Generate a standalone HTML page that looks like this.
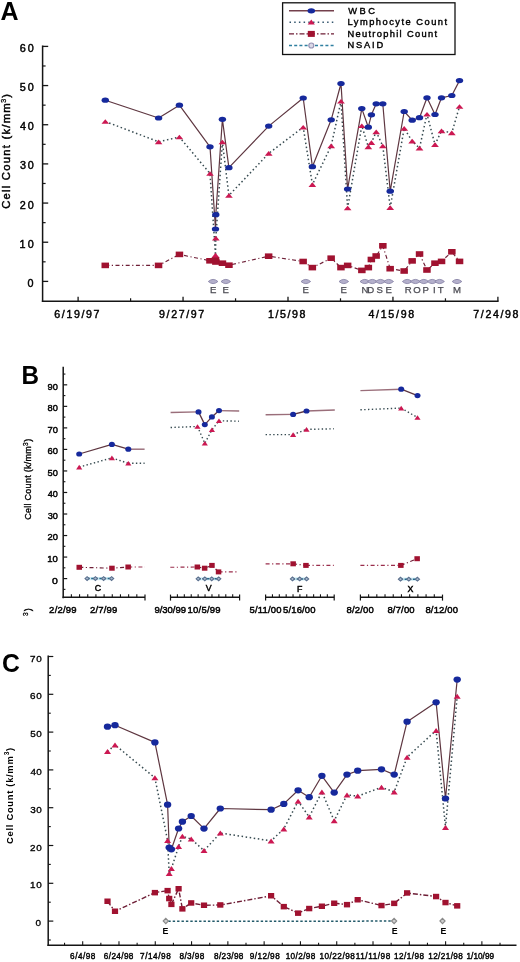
<!DOCTYPE html>
<html><head><meta charset="utf-8"><style>
html,body{margin:0;padding:0;background:#fff;overflow:hidden;}
svg{display:block;will-change:transform;}
</style></head><body>
<svg width="520" height="962" viewBox="0 0 520 962">
<rect width="520" height="962" fill="#fff"/>
<text x="0.49" y="19.80" font-family="Liberation Sans" font-size="25.7" font-weight="bold" fill="#000" textLength="18.08" lengthAdjust="spacingAndGlyphs">A</text>
<rect x="282.6" y="2.8" width="172.4" height="51.7" fill="#fff" stroke="#111" stroke-width="1.3"/>
<line x1="289.00" y1="10.80" x2="334.00" y2="10.80" stroke="#74404c" stroke-width="1.4"/>
<ellipse cx="311.3" cy="10.8" rx="3.8" ry="2.6" fill="#16299c"/>
<polyline points="289.5,22.2 334.0,22.2" fill="none" stroke="#34566e" stroke-width="1.6" stroke-dasharray="1.5 3.2" stroke-linejoin="round"/>
<path d="M307.7,24.4 L311.3,19.4 L314.9,24.4Z" fill="#cc1852"/>
<polyline points="289.0,33.9 334.0,33.9" fill="none" stroke="#6e1e36" stroke-width="1.4" stroke-dasharray="5 2 1.5 2" stroke-linejoin="round"/>
<rect x="307.8" y="30.9" width="7" height="6" fill="#a01230"/>
<polyline points="289.0,45.5 334.0,45.5" fill="none" stroke="#2f7fa0" stroke-width="1.3" stroke-dasharray="3 2.2" stroke-linejoin="round"/>
<circle cx="311.3" cy="45.5" r="2.5" fill="#dcdae8" stroke="#9894b4" stroke-width="1.2"/>
<text x="348.20" y="13.80" font-family="Liberation Sans" font-size="9.3" font-weight="normal" stroke="#000" stroke-width="0.4" fill="#000" textLength="26.70" lengthAdjust="spacing">WBC</text>
<text x="347.46" y="25.30" font-family="Liberation Sans" font-size="9.3" font-weight="normal" stroke="#000" stroke-width="0.4" fill="#000" textLength="99.62" lengthAdjust="spacing">Lymphocyte Count</text>
<text x="347.46" y="36.80" font-family="Liberation Sans" font-size="9.3" font-weight="normal" stroke="#000" stroke-width="0.4" fill="#000" textLength="89.52" lengthAdjust="spacing">Neutrophil Count</text>
<text x="347.46" y="48.00" font-family="Liberation Sans" font-size="9.3" font-weight="normal" stroke="#000" stroke-width="0.4" fill="#000" textLength="35.64" lengthAdjust="spacing">NSAID</text>
<line x1="42.60" y1="45.40" x2="42.60" y2="302.00" stroke="#151515" stroke-width="1.5"/>
<line x1="41.85" y1="301.20" x2="498.60" y2="301.20" stroke="#151515" stroke-width="1.6"/>
<line x1="42.60" y1="281.40" x2="48.20" y2="281.40" stroke="#151515" stroke-width="1.3"/>
<text x="27.38" y="286.90" font-family="Liberation Sans" font-size="10.8" font-weight="normal" stroke="#000" stroke-width="0.45" fill="#000" textLength="6.31" lengthAdjust="spacing">0</text>
<line x1="42.60" y1="242.23" x2="48.20" y2="242.23" stroke="#151515" stroke-width="1.3"/>
<text x="19.54" y="247.73" font-family="Liberation Sans" font-size="10.8" font-weight="normal" stroke="#000" stroke-width="0.45" fill="#000" textLength="14.15" lengthAdjust="spacing">10</text>
<line x1="42.60" y1="203.07" x2="48.20" y2="203.07" stroke="#151515" stroke-width="1.3"/>
<text x="19.76" y="208.57" font-family="Liberation Sans" font-size="10.8" font-weight="normal" stroke="#000" stroke-width="0.45" fill="#000" textLength="13.93" lengthAdjust="spacing">20</text>
<line x1="42.60" y1="163.90" x2="48.20" y2="163.90" stroke="#151515" stroke-width="1.3"/>
<text x="19.98" y="169.40" font-family="Liberation Sans" font-size="10.8" font-weight="normal" stroke="#000" stroke-width="0.45" fill="#000" textLength="13.71" lengthAdjust="spacing">30</text>
<line x1="42.60" y1="124.73" x2="48.20" y2="124.73" stroke="#151515" stroke-width="1.3"/>
<text x="20.08" y="130.23" font-family="Liberation Sans" font-size="10.8" font-weight="normal" stroke="#000" stroke-width="0.45" fill="#000" textLength="13.61" lengthAdjust="spacing">40</text>
<line x1="42.60" y1="85.56" x2="48.20" y2="85.56" stroke="#151515" stroke-width="1.3"/>
<text x="19.87" y="91.06" font-family="Liberation Sans" font-size="10.8" font-weight="normal" stroke="#000" stroke-width="0.45" fill="#000" textLength="13.82" lengthAdjust="spacing">50</text>
<line x1="42.60" y1="46.40" x2="48.20" y2="46.40" stroke="#151515" stroke-width="1.3"/>
<text x="19.76" y="51.90" font-family="Liberation Sans" font-size="10.8" font-weight="normal" stroke="#000" stroke-width="0.45" fill="#000" textLength="13.93" lengthAdjust="spacing">60</text>
<line x1="42.60" y1="261.82" x2="45.60" y2="261.82" stroke="#151515" stroke-width="1.2"/>
<line x1="42.60" y1="222.65" x2="45.60" y2="222.65" stroke="#151515" stroke-width="1.2"/>
<line x1="42.60" y1="183.48" x2="45.60" y2="183.48" stroke="#151515" stroke-width="1.2"/>
<line x1="42.60" y1="144.32" x2="45.60" y2="144.32" stroke="#151515" stroke-width="1.2"/>
<line x1="42.60" y1="105.15" x2="45.60" y2="105.15" stroke="#151515" stroke-width="1.2"/>
<line x1="42.60" y1="65.98" x2="45.60" y2="65.98" stroke="#151515" stroke-width="1.2"/>
<line x1="78.10" y1="301.20" x2="78.10" y2="296.80" stroke="#151515" stroke-width="1.3"/>
<text x="54.27" y="318.30" font-family="Liberation Sans" font-size="10.6" font-weight="normal" stroke="#000" stroke-width="0.45" fill="#000" textLength="45.22" lengthAdjust="spacing">6/19/97</text>
<line x1="183.05" y1="301.20" x2="183.05" y2="296.80" stroke="#151515" stroke-width="1.3"/>
<text x="159.08" y="318.30" font-family="Liberation Sans" font-size="10.6" font-weight="normal" stroke="#000" stroke-width="0.45" fill="#000" textLength="45.16" lengthAdjust="spacing">9/27/97</text>
<line x1="288.00" y1="301.20" x2="288.00" y2="296.80" stroke="#151515" stroke-width="1.3"/>
<text x="268.01" y="318.30" font-family="Liberation Sans" font-size="10.6" font-weight="normal" stroke="#000" stroke-width="0.45" fill="#000" textLength="37.38" lengthAdjust="spacing">1/5/98</text>
<line x1="392.95" y1="301.20" x2="392.95" y2="296.80" stroke="#151515" stroke-width="1.3"/>
<text x="368.39" y="318.30" font-family="Liberation Sans" font-size="10.6" font-weight="normal" stroke="#000" stroke-width="0.45" fill="#000" textLength="45.80" lengthAdjust="spacing">4/15/98</text>
<line x1="497.90" y1="301.20" x2="497.90" y2="296.80" stroke="#151515" stroke-width="1.3"/>
<text x="473.27" y="318.30" font-family="Liberation Sans" font-size="10.6" font-weight="normal" stroke="#000" stroke-width="0.45" fill="#000" textLength="45.21" lengthAdjust="spacing">7/24/98</text>
<line x1="130.60" y1="301.20" x2="130.60" y2="298.30" stroke="#151515" stroke-width="1.2"/>
<line x1="235.55" y1="301.20" x2="235.55" y2="298.30" stroke="#151515" stroke-width="1.2"/>
<line x1="340.50" y1="301.20" x2="340.50" y2="298.30" stroke="#151515" stroke-width="1.2"/>
<line x1="445.45" y1="301.20" x2="445.45" y2="298.30" stroke="#151515" stroke-width="1.2"/>
<text transform="translate(9.90,208.30) rotate(-90)" x="-0.56" y="0" font-family="Liberation Sans" font-size="11.3" font-weight="normal" stroke="#000" stroke-width="0.45" fill="#000" textLength="105.58" lengthAdjust="spacing">Cell Count (k/mm</text>
<text transform="translate(6.30,102.60) rotate(-90)" x="-0.22" y="0" font-family="Liberation Sans" font-size="7.2" font-weight="normal" stroke="#000" stroke-width="0.3" fill="#000" textLength="3.78" lengthAdjust="spacing">3</text>
<text transform="translate(9.90,97.70) rotate(-90)" x="0.00" y="0" font-family="Liberation Sans" font-size="11.3" font-weight="normal" stroke="#000" stroke-width="0.45" fill="#000" textLength="3.60" lengthAdjust="spacing">)</text>
<polyline points="105.3,265.4 158.6,265.4 179.4,254.4 210.0,260.8 215.5,259.8 215.8,262.0 222.4,263.2 228.9,265.2 268.7,256.2 303.2,261.5 312.4,267.6 331.2,258.2 341.0,267.6 347.6,265.4 361.8,270.4 368.3,267.6 371.4,259.5 376.2,256.0 382.8,245.8 390.2,268.7 404.2,271.0 412.2,260.9 419.5,254.0 427.0,270.0 435.0,263.2 441.5,261.4 451.8,251.8 459.5,261.4" fill="none" stroke="#6e1e36" stroke-width="1.15" stroke-dasharray="4 2.5 1.2 2.5" stroke-linejoin="round"/>
<polyline points="105.3,121.5 158.6,141.8 179.4,137.0 210.0,173.5 215.5,255.2 215.8,238.2 222.4,142.0 228.9,195.5 268.7,153.4 303.2,127.2 312.4,184.6 331.2,145.8 341.0,101.2 347.6,208.0 361.8,125.7 368.3,146.9 371.4,142.7 376.2,131.8 382.8,146.0 390.2,207.6 404.2,128.3 412.2,141.2 419.5,148.1 427.0,114.2 435.0,144.7 441.5,130.9 451.8,132.8 459.5,106.5" fill="none" stroke="#364a50" stroke-width="1.5" stroke-dasharray="1.5 2.6" stroke-linejoin="round"/>
<polyline points="105.3,100.2 158.6,118.0 179.4,105.2 210.0,146.8 215.5,229.0 215.8,214.7 222.4,119.3 228.9,167.7 268.7,126.1 303.2,98.0 312.4,166.7 331.2,119.8 341.0,83.5 347.6,189.0 361.8,108.6 368.3,127.2 371.4,114.8 376.2,103.8 382.8,103.8 390.2,191.2 404.2,111.5 412.2,120.2 419.5,117.7 427.0,97.8 435.0,114.5 441.5,97.8 451.8,95.5 459.5,80.6" fill="none" stroke="#5e3640" stroke-width="1.2" stroke-linejoin="round"/>
<rect x="101.5" y="262.6" width="7.5" height="5.6" fill="#a01230"/>
<rect x="154.8" y="262.6" width="7.5" height="5.6" fill="#a01230"/>
<rect x="175.7" y="251.6" width="7.5" height="5.6" fill="#a01230"/>
<rect x="206.2" y="258.0" width="7.5" height="5.6" fill="#a01230"/>
<rect x="211.8" y="257.0" width="7.5" height="5.6" fill="#a01230"/>
<rect x="212.1" y="259.2" width="7.5" height="5.6" fill="#a01230"/>
<rect x="218.7" y="260.4" width="7.5" height="5.6" fill="#a01230"/>
<rect x="225.2" y="262.4" width="7.5" height="5.6" fill="#a01230"/>
<rect x="264.9" y="253.4" width="7.5" height="5.6" fill="#a01230"/>
<rect x="299.4" y="258.7" width="7.5" height="5.6" fill="#a01230"/>
<rect x="308.6" y="264.8" width="7.5" height="5.6" fill="#a01230"/>
<rect x="327.4" y="255.4" width="7.5" height="5.6" fill="#a01230"/>
<rect x="337.2" y="264.8" width="7.5" height="5.6" fill="#a01230"/>
<rect x="343.9" y="262.6" width="7.5" height="5.6" fill="#a01230"/>
<rect x="358.1" y="267.6" width="7.5" height="5.6" fill="#a01230"/>
<rect x="364.6" y="264.8" width="7.5" height="5.6" fill="#a01230"/>
<rect x="367.6" y="256.7" width="7.5" height="5.6" fill="#a01230"/>
<rect x="372.4" y="253.2" width="7.5" height="5.6" fill="#a01230"/>
<rect x="379.1" y="243.0" width="7.5" height="5.6" fill="#a01230"/>
<rect x="386.4" y="265.9" width="7.5" height="5.6" fill="#a01230"/>
<rect x="400.4" y="268.2" width="7.5" height="5.6" fill="#a01230"/>
<rect x="408.4" y="258.1" width="7.5" height="5.6" fill="#a01230"/>
<rect x="415.8" y="251.2" width="7.5" height="5.6" fill="#a01230"/>
<rect x="423.2" y="267.2" width="7.5" height="5.6" fill="#a01230"/>
<rect x="431.2" y="260.4" width="7.5" height="5.6" fill="#a01230"/>
<rect x="437.8" y="258.6" width="7.5" height="5.6" fill="#a01230"/>
<rect x="448.1" y="249.0" width="7.5" height="5.6" fill="#a01230"/>
<rect x="455.8" y="258.6" width="7.5" height="5.6" fill="#a01230"/>
<path d="M101.5,123.8 L105.3,119.2 L109.1,123.8Z" fill="#cc1852"/>
<path d="M154.8,144.2 L158.6,139.5 L162.4,144.2Z" fill="#cc1852"/>
<path d="M175.6,139.3 L179.4,134.7 L183.2,139.3Z" fill="#cc1852"/>
<path d="M206.2,175.8 L210.0,171.2 L213.8,175.8Z" fill="#cc1852"/>
<path d="M211.7,257.6 L215.5,252.8 L219.3,257.6Z" fill="#cc1852"/>
<path d="M212.0,240.5 L215.8,235.8 L219.7,240.5Z" fill="#cc1852"/>
<path d="M218.6,144.3 L222.4,139.7 L226.2,144.3Z" fill="#cc1852"/>
<path d="M225.1,197.8 L228.9,193.2 L232.8,197.8Z" fill="#cc1852"/>
<path d="M264.8,155.8 L268.7,151.1 L272.6,155.8Z" fill="#cc1852"/>
<path d="M299.3,129.6 L303.2,124.9 L307.1,129.6Z" fill="#cc1852"/>
<path d="M308.5,186.9 L312.4,182.2 L316.2,186.9Z" fill="#cc1852"/>
<path d="M327.3,148.2 L331.2,143.5 L335.1,148.2Z" fill="#cc1852"/>
<path d="M337.1,103.5 L341.0,98.9 L344.9,103.5Z" fill="#cc1852"/>
<path d="M343.8,210.3 L347.6,205.7 L351.5,210.3Z" fill="#cc1852"/>
<path d="M357.9,128.1 L361.8,123.4 L365.7,128.1Z" fill="#cc1852"/>
<path d="M364.4,149.2 L368.3,144.6 L372.2,149.2Z" fill="#cc1852"/>
<path d="M367.5,145.0 L371.4,140.3 L375.2,145.0Z" fill="#cc1852"/>
<path d="M372.3,134.2 L376.2,129.5 L380.1,134.2Z" fill="#cc1852"/>
<path d="M378.9,148.3 L382.8,143.7 L386.7,148.3Z" fill="#cc1852"/>
<path d="M386.3,209.9 L390.2,205.2 L394.1,209.9Z" fill="#cc1852"/>
<path d="M400.3,130.7 L404.2,126.0 L408.1,130.7Z" fill="#cc1852"/>
<path d="M408.3,143.5 L412.2,138.8 L416.1,143.5Z" fill="#cc1852"/>
<path d="M415.6,150.4 L419.5,145.8 L423.4,150.4Z" fill="#cc1852"/>
<path d="M423.1,116.5 L427.0,111.9 L430.9,116.5Z" fill="#cc1852"/>
<path d="M431.1,147.0 L435.0,142.3 L438.9,147.0Z" fill="#cc1852"/>
<path d="M437.6,133.2 L441.5,128.6 L445.4,133.2Z" fill="#cc1852"/>
<path d="M447.9,135.2 L451.8,130.5 L455.7,135.2Z" fill="#cc1852"/>
<path d="M455.6,108.8 L459.5,104.2 L463.4,108.8Z" fill="#cc1852"/>
<ellipse cx="105.3" cy="100.2" rx="3.7" ry="2.6" fill="#16299c"/>
<ellipse cx="158.6" cy="118.0" rx="3.7" ry="2.6" fill="#16299c"/>
<ellipse cx="179.4" cy="105.2" rx="3.7" ry="2.6" fill="#16299c"/>
<ellipse cx="210.0" cy="146.8" rx="3.7" ry="2.6" fill="#16299c"/>
<ellipse cx="215.5" cy="229.0" rx="3.7" ry="2.6" fill="#16299c"/>
<ellipse cx="215.8" cy="214.7" rx="3.7" ry="2.6" fill="#16299c"/>
<ellipse cx="222.4" cy="119.3" rx="3.7" ry="2.6" fill="#16299c"/>
<ellipse cx="228.9" cy="167.7" rx="3.7" ry="2.6" fill="#16299c"/>
<ellipse cx="268.7" cy="126.1" rx="3.7" ry="2.6" fill="#16299c"/>
<ellipse cx="303.2" cy="98.0" rx="3.7" ry="2.6" fill="#16299c"/>
<ellipse cx="312.4" cy="166.7" rx="3.7" ry="2.6" fill="#16299c"/>
<ellipse cx="331.2" cy="119.8" rx="3.7" ry="2.6" fill="#16299c"/>
<ellipse cx="341.0" cy="83.5" rx="3.7" ry="2.6" fill="#16299c"/>
<ellipse cx="347.6" cy="189.0" rx="3.7" ry="2.6" fill="#16299c"/>
<ellipse cx="361.8" cy="108.6" rx="3.7" ry="2.6" fill="#16299c"/>
<ellipse cx="368.3" cy="127.2" rx="3.7" ry="2.6" fill="#16299c"/>
<ellipse cx="371.4" cy="114.8" rx="3.7" ry="2.6" fill="#16299c"/>
<ellipse cx="376.2" cy="103.8" rx="3.7" ry="2.6" fill="#16299c"/>
<ellipse cx="382.8" cy="103.8" rx="3.7" ry="2.6" fill="#16299c"/>
<ellipse cx="390.2" cy="191.2" rx="3.7" ry="2.6" fill="#16299c"/>
<ellipse cx="404.2" cy="111.5" rx="3.7" ry="2.6" fill="#16299c"/>
<ellipse cx="412.2" cy="120.2" rx="3.7" ry="2.6" fill="#16299c"/>
<ellipse cx="419.5" cy="117.7" rx="3.7" ry="2.6" fill="#16299c"/>
<ellipse cx="427.0" cy="97.8" rx="3.7" ry="2.6" fill="#16299c"/>
<ellipse cx="435.0" cy="114.5" rx="3.7" ry="2.6" fill="#16299c"/>
<ellipse cx="441.5" cy="97.8" rx="3.7" ry="2.6" fill="#16299c"/>
<ellipse cx="451.8" cy="95.5" rx="3.7" ry="2.6" fill="#16299c"/>
<ellipse cx="459.5" cy="80.6" rx="3.7" ry="2.6" fill="#16299c"/>
<path d="M208.3,281.5 Q213.1,277.3 217.9,281.5 Q213.1,285.7 208.3,281.5Z" fill="#b4b0cc" stroke="#8a86a8" stroke-width="0.9"/>
<path d="M221.0,281.5 Q225.8,277.3 230.6,281.5 Q225.8,285.7 221.0,281.5Z" fill="#b4b0cc" stroke="#8a86a8" stroke-width="0.9"/>
<path d="M301.0,281.5 Q305.8,277.3 310.6,281.5 Q305.8,285.7 301.0,281.5Z" fill="#b4b0cc" stroke="#8a86a8" stroke-width="0.9"/>
<path d="M339.0,281.5 Q343.8,277.3 348.6,281.5 Q343.8,285.7 339.0,281.5Z" fill="#b4b0cc" stroke="#8a86a8" stroke-width="0.9"/>
<path d="M360.0,281.5 Q364.8,277.3 369.6,281.5 Q364.8,285.7 360.0,281.5Z" fill="#b4b0cc" stroke="#8a86a8" stroke-width="0.9"/>
<path d="M367.5,281.5 Q372.3,277.3 377.1,281.5 Q372.3,285.7 367.5,281.5Z" fill="#b4b0cc" stroke="#8a86a8" stroke-width="0.9"/>
<path d="M375.7,281.5 Q380.5,277.3 385.3,281.5 Q380.5,285.7 375.7,281.5Z" fill="#b4b0cc" stroke="#8a86a8" stroke-width="0.9"/>
<path d="M383.9,281.5 Q388.7,277.3 393.5,281.5 Q388.7,285.7 383.9,281.5Z" fill="#b4b0cc" stroke="#8a86a8" stroke-width="0.9"/>
<path d="M402.4,281.5 Q407.2,277.3 412.0,281.5 Q407.2,285.7 402.4,281.5Z" fill="#b4b0cc" stroke="#8a86a8" stroke-width="0.9"/>
<path d="M410.6,281.5 Q415.4,277.3 420.2,281.5 Q415.4,285.7 410.6,281.5Z" fill="#b4b0cc" stroke="#8a86a8" stroke-width="0.9"/>
<path d="M419.0,281.5 Q423.8,277.3 428.6,281.5 Q423.8,285.7 419.0,281.5Z" fill="#b4b0cc" stroke="#8a86a8" stroke-width="0.9"/>
<path d="M427.4,281.5 Q432.2,277.3 437.0,281.5 Q432.2,285.7 427.4,281.5Z" fill="#b4b0cc" stroke="#8a86a8" stroke-width="0.9"/>
<path d="M434.8,281.5 Q439.6,277.3 444.4,281.5 Q439.6,285.7 434.8,281.5Z" fill="#b4b0cc" stroke="#8a86a8" stroke-width="0.9"/>
<path d="M452.2,281.5 Q457.0,277.3 461.8,281.5 Q457.0,285.7 452.2,281.5Z" fill="#b4b0cc" stroke="#8a86a8" stroke-width="0.9"/>
<text x="213.10" y="292.60" font-family="Liberation Sans" font-size="9.6" font-weight="normal" stroke="#4a4a52" stroke-width="0.25" fill="#4a4a52" text-anchor="middle">E</text>
<text x="225.80" y="292.60" font-family="Liberation Sans" font-size="9.6" font-weight="normal" stroke="#4a4a52" stroke-width="0.25" fill="#4a4a52" text-anchor="middle">E</text>
<text x="305.80" y="292.60" font-family="Liberation Sans" font-size="9.6" font-weight="normal" stroke="#4a4a52" stroke-width="0.25" fill="#4a4a52" text-anchor="middle">E</text>
<text x="343.80" y="292.60" font-family="Liberation Sans" font-size="9.6" font-weight="normal" stroke="#4a4a52" stroke-width="0.25" fill="#4a4a52" text-anchor="middle">E</text>
<text x="365.00" y="292.60" font-family="Liberation Sans" font-size="9.6" font-weight="normal" stroke="#4a4a52" stroke-width="0.25" fill="#4a4a52" text-anchor="middle">N</text>
<text x="370.60" y="292.60" font-family="Liberation Sans" font-size="9.6" font-weight="normal" stroke="#4a4a52" stroke-width="0.25" fill="#4a4a52" text-anchor="middle">D</text>
<text x="379.80" y="292.60" font-family="Liberation Sans" font-size="9.6" font-weight="normal" stroke="#4a4a52" stroke-width="0.25" fill="#4a4a52" text-anchor="middle">S</text>
<text x="388.70" y="292.60" font-family="Liberation Sans" font-size="9.6" font-weight="normal" stroke="#4a4a52" stroke-width="0.25" fill="#4a4a52" text-anchor="middle">E</text>
<text x="408.20" y="292.60" font-family="Liberation Sans" font-size="9.6" font-weight="normal" stroke="#4a4a52" stroke-width="0.25" fill="#4a4a52" text-anchor="middle">R</text>
<text x="417.10" y="292.60" font-family="Liberation Sans" font-size="9.6" font-weight="normal" stroke="#4a4a52" stroke-width="0.25" fill="#4a4a52" text-anchor="middle">O</text>
<text x="425.70" y="292.60" font-family="Liberation Sans" font-size="9.6" font-weight="normal" stroke="#4a4a52" stroke-width="0.25" fill="#4a4a52" text-anchor="middle">P</text>
<text x="434.30" y="292.60" font-family="Liberation Sans" font-size="9.6" font-weight="normal" stroke="#4a4a52" stroke-width="0.25" fill="#4a4a52" text-anchor="middle">I</text>
<text x="440.80" y="292.60" font-family="Liberation Sans" font-size="9.6" font-weight="normal" stroke="#4a4a52" stroke-width="0.25" fill="#4a4a52" text-anchor="middle">T</text>
<text x="457.00" y="292.60" font-family="Liberation Sans" font-size="9.6" font-weight="normal" stroke="#4a4a52" stroke-width="0.25" fill="#4a4a52" text-anchor="middle">M</text>
<text x="21.41" y="383.70" font-family="Liberation Sans" font-size="26.5" font-weight="bold" fill="#000" textLength="17.51" lengthAdjust="spacingAndGlyphs">B</text>
<line x1="63.20" y1="366.80" x2="63.20" y2="598.20" stroke="#151515" stroke-width="1.5"/>
<line x1="63.20" y1="578.60" x2="67.20" y2="578.60" stroke="#151515" stroke-width="1.2"/>
<text x="52.11" y="583.50" font-family="Liberation Sans" font-size="9.7" font-weight="normal" stroke="#000" stroke-width="0.45" fill="#000" textLength="5.84" lengthAdjust="spacingAndGlyphs">0</text>
<line x1="63.20" y1="557.07" x2="67.20" y2="557.07" stroke="#151515" stroke-width="1.2"/>
<text x="47.32" y="561.97" font-family="Liberation Sans" font-size="9.7" font-weight="normal" stroke="#000" stroke-width="0.45" fill="#000" textLength="10.63" lengthAdjust="spacingAndGlyphs">10</text>
<line x1="63.20" y1="535.54" x2="67.20" y2="535.54" stroke="#151515" stroke-width="1.2"/>
<text x="47.52" y="540.44" font-family="Liberation Sans" font-size="9.7" font-weight="normal" stroke="#000" stroke-width="0.45" fill="#000" textLength="10.44" lengthAdjust="spacingAndGlyphs">20</text>
<line x1="63.20" y1="514.01" x2="67.20" y2="514.01" stroke="#151515" stroke-width="1.2"/>
<text x="47.71" y="518.91" font-family="Liberation Sans" font-size="9.7" font-weight="normal" stroke="#000" stroke-width="0.45" fill="#000" textLength="10.24" lengthAdjust="spacingAndGlyphs">30</text>
<line x1="63.20" y1="492.48" x2="67.20" y2="492.48" stroke="#151515" stroke-width="1.2"/>
<text x="47.81" y="497.38" font-family="Liberation Sans" font-size="9.7" font-weight="normal" stroke="#000" stroke-width="0.45" fill="#000" textLength="10.14" lengthAdjust="spacingAndGlyphs">40</text>
<line x1="63.20" y1="470.95" x2="67.20" y2="470.95" stroke="#151515" stroke-width="1.2"/>
<text x="47.61" y="475.85" font-family="Liberation Sans" font-size="9.7" font-weight="normal" stroke="#000" stroke-width="0.45" fill="#000" textLength="10.34" lengthAdjust="spacingAndGlyphs">50</text>
<line x1="63.20" y1="449.42" x2="67.20" y2="449.42" stroke="#151515" stroke-width="1.2"/>
<text x="47.52" y="454.32" font-family="Liberation Sans" font-size="9.7" font-weight="normal" stroke="#000" stroke-width="0.45" fill="#000" textLength="10.44" lengthAdjust="spacingAndGlyphs">60</text>
<line x1="63.20" y1="427.89" x2="67.20" y2="427.89" stroke="#151515" stroke-width="1.2"/>
<text x="47.52" y="432.79" font-family="Liberation Sans" font-size="9.7" font-weight="normal" stroke="#000" stroke-width="0.45" fill="#000" textLength="10.44" lengthAdjust="spacingAndGlyphs">70</text>
<line x1="63.20" y1="406.36" x2="67.20" y2="406.36" stroke="#151515" stroke-width="1.2"/>
<text x="47.61" y="411.26" font-family="Liberation Sans" font-size="9.7" font-weight="normal" stroke="#000" stroke-width="0.45" fill="#000" textLength="10.34" lengthAdjust="spacingAndGlyphs">80</text>
<line x1="63.20" y1="384.83" x2="67.20" y2="384.83" stroke="#151515" stroke-width="1.2"/>
<text x="47.61" y="389.73" font-family="Liberation Sans" font-size="9.7" font-weight="normal" stroke="#000" stroke-width="0.45" fill="#000" textLength="10.34" lengthAdjust="spacingAndGlyphs">90</text>
<line x1="63.20" y1="589.37" x2="65.40" y2="589.37" stroke="#151515" stroke-width="1.1"/>
<line x1="63.20" y1="567.84" x2="65.40" y2="567.84" stroke="#151515" stroke-width="1.1"/>
<line x1="63.20" y1="546.31" x2="65.40" y2="546.31" stroke="#151515" stroke-width="1.1"/>
<line x1="63.20" y1="524.77" x2="65.40" y2="524.77" stroke="#151515" stroke-width="1.1"/>
<line x1="63.20" y1="503.25" x2="65.40" y2="503.25" stroke="#151515" stroke-width="1.1"/>
<line x1="63.20" y1="481.72" x2="65.40" y2="481.72" stroke="#151515" stroke-width="1.1"/>
<line x1="63.20" y1="460.19" x2="65.40" y2="460.19" stroke="#151515" stroke-width="1.1"/>
<line x1="63.20" y1="438.66" x2="65.40" y2="438.66" stroke="#151515" stroke-width="1.1"/>
<line x1="63.20" y1="417.12" x2="65.40" y2="417.12" stroke="#151515" stroke-width="1.1"/>
<line x1="63.20" y1="395.60" x2="65.40" y2="395.60" stroke="#151515" stroke-width="1.1"/>
<line x1="63.20" y1="374.07" x2="65.40" y2="374.07" stroke="#151515" stroke-width="1.1"/>
<line x1="62.50" y1="597.30" x2="145.00" y2="597.30" stroke="#151515" stroke-width="1.4"/>
<line x1="71.38" y1="597.30" x2="71.38" y2="594.30" stroke="#151515" stroke-width="1.1"/>
<line x1="79.56" y1="597.30" x2="79.56" y2="594.30" stroke="#151515" stroke-width="1.1"/>
<line x1="87.74" y1="597.30" x2="87.74" y2="594.30" stroke="#151515" stroke-width="1.1"/>
<line x1="95.92" y1="597.30" x2="95.92" y2="594.30" stroke="#151515" stroke-width="1.1"/>
<line x1="104.10" y1="597.30" x2="104.10" y2="594.30" stroke="#151515" stroke-width="1.1"/>
<line x1="112.28" y1="597.30" x2="112.28" y2="594.30" stroke="#151515" stroke-width="1.1"/>
<line x1="120.46" y1="597.30" x2="120.46" y2="594.30" stroke="#151515" stroke-width="1.1"/>
<line x1="128.64" y1="597.30" x2="128.64" y2="594.30" stroke="#151515" stroke-width="1.1"/>
<line x1="136.82" y1="597.30" x2="136.82" y2="594.30" stroke="#151515" stroke-width="1.1"/>
<line x1="145.00" y1="594.60" x2="145.00" y2="600.60" stroke="#151515" stroke-width="1.2"/>
<line x1="170.50" y1="597.30" x2="239.60" y2="597.30" stroke="#151515" stroke-width="1.4"/>
<line x1="170.50" y1="594.60" x2="170.50" y2="600.60" stroke="#151515" stroke-width="1.2"/>
<line x1="177.41" y1="597.30" x2="177.41" y2="594.30" stroke="#151515" stroke-width="1.1"/>
<line x1="184.32" y1="597.30" x2="184.32" y2="594.30" stroke="#151515" stroke-width="1.1"/>
<line x1="191.23" y1="597.30" x2="191.23" y2="594.30" stroke="#151515" stroke-width="1.1"/>
<line x1="198.14" y1="597.30" x2="198.14" y2="594.30" stroke="#151515" stroke-width="1.1"/>
<line x1="205.05" y1="597.30" x2="205.05" y2="594.30" stroke="#151515" stroke-width="1.1"/>
<line x1="211.96" y1="597.30" x2="211.96" y2="594.30" stroke="#151515" stroke-width="1.1"/>
<line x1="218.87" y1="597.30" x2="218.87" y2="594.30" stroke="#151515" stroke-width="1.1"/>
<line x1="225.78" y1="597.30" x2="225.78" y2="594.30" stroke="#151515" stroke-width="1.1"/>
<line x1="232.69" y1="597.30" x2="232.69" y2="594.30" stroke="#151515" stroke-width="1.1"/>
<line x1="239.60" y1="594.60" x2="239.60" y2="600.60" stroke="#151515" stroke-width="1.2"/>
<line x1="265.60" y1="597.30" x2="334.20" y2="597.30" stroke="#151515" stroke-width="1.4"/>
<line x1="265.60" y1="594.60" x2="265.60" y2="600.60" stroke="#151515" stroke-width="1.2"/>
<line x1="272.46" y1="597.30" x2="272.46" y2="594.30" stroke="#151515" stroke-width="1.1"/>
<line x1="279.32" y1="597.30" x2="279.32" y2="594.30" stroke="#151515" stroke-width="1.1"/>
<line x1="286.18" y1="597.30" x2="286.18" y2="594.30" stroke="#151515" stroke-width="1.1"/>
<line x1="293.04" y1="597.30" x2="293.04" y2="594.30" stroke="#151515" stroke-width="1.1"/>
<line x1="299.90" y1="597.30" x2="299.90" y2="594.30" stroke="#151515" stroke-width="1.1"/>
<line x1="306.76" y1="597.30" x2="306.76" y2="594.30" stroke="#151515" stroke-width="1.1"/>
<line x1="313.62" y1="597.30" x2="313.62" y2="594.30" stroke="#151515" stroke-width="1.1"/>
<line x1="320.48" y1="597.30" x2="320.48" y2="594.30" stroke="#151515" stroke-width="1.1"/>
<line x1="327.34" y1="597.30" x2="327.34" y2="594.30" stroke="#151515" stroke-width="1.1"/>
<line x1="334.20" y1="594.60" x2="334.20" y2="600.60" stroke="#151515" stroke-width="1.2"/>
<line x1="360.40" y1="597.30" x2="442.50" y2="597.30" stroke="#151515" stroke-width="1.4"/>
<line x1="360.40" y1="594.60" x2="360.40" y2="600.60" stroke="#151515" stroke-width="1.2"/>
<line x1="368.61" y1="597.30" x2="368.61" y2="594.30" stroke="#151515" stroke-width="1.1"/>
<line x1="376.82" y1="597.30" x2="376.82" y2="594.30" stroke="#151515" stroke-width="1.1"/>
<line x1="385.03" y1="597.30" x2="385.03" y2="594.30" stroke="#151515" stroke-width="1.1"/>
<line x1="393.24" y1="597.30" x2="393.24" y2="594.30" stroke="#151515" stroke-width="1.1"/>
<line x1="401.45" y1="597.30" x2="401.45" y2="594.30" stroke="#151515" stroke-width="1.1"/>
<line x1="409.66" y1="597.30" x2="409.66" y2="594.30" stroke="#151515" stroke-width="1.1"/>
<line x1="417.87" y1="597.30" x2="417.87" y2="594.30" stroke="#151515" stroke-width="1.1"/>
<line x1="426.08" y1="597.30" x2="426.08" y2="594.30" stroke="#151515" stroke-width="1.1"/>
<line x1="434.29" y1="597.30" x2="434.29" y2="594.30" stroke="#151515" stroke-width="1.1"/>
<line x1="442.50" y1="594.60" x2="442.50" y2="600.60" stroke="#151515" stroke-width="1.2"/>
<text x="49.12" y="612.80" font-family="Liberation Sans" font-size="9.5" font-weight="normal" stroke="#000" stroke-width="0.45" fill="#000" textLength="27.51" lengthAdjust="spacing">2/2/99</text>
<text x="89.93" y="612.80" font-family="Liberation Sans" font-size="9.5" font-weight="normal" stroke="#000" stroke-width="0.45" fill="#000" textLength="27.41" lengthAdjust="spacing">2/7/99</text>
<text x="154.42" y="612.80" font-family="Liberation Sans" font-size="9.5" font-weight="normal" stroke="#000" stroke-width="0.45" fill="#000" textLength="31.62" lengthAdjust="spacing">9/30/99</text>
<text x="187.44" y="612.80" font-family="Liberation Sans" font-size="9.5" font-weight="normal" stroke="#000" stroke-width="0.45" fill="#000" textLength="33.20" lengthAdjust="spacing">10/5/99</text>
<text x="249.42" y="612.80" font-family="Liberation Sans" font-size="9.5" font-weight="normal" stroke="#000" stroke-width="0.45" fill="#000" textLength="32.12" lengthAdjust="spacing">5/11/00</text>
<text x="283.12" y="612.80" font-family="Liberation Sans" font-size="9.5" font-weight="normal" stroke="#000" stroke-width="0.45" fill="#000" textLength="32.42" lengthAdjust="spacing">5/16/00</text>
<text x="346.52" y="612.80" font-family="Liberation Sans" font-size="9.5" font-weight="normal" stroke="#000" stroke-width="0.45" fill="#000" textLength="27.32" lengthAdjust="spacing">8/2/00</text>
<text x="387.42" y="612.80" font-family="Liberation Sans" font-size="9.5" font-weight="normal" stroke="#000" stroke-width="0.45" fill="#000" textLength="27.22" lengthAdjust="spacing">8/7/00</text>
<text x="425.42" y="612.80" font-family="Liberation Sans" font-size="9.5" font-weight="normal" stroke="#000" stroke-width="0.45" fill="#000" textLength="32.62" lengthAdjust="spacing">8/12/00</text>
<text transform="translate(31.30,519.40) rotate(-90)" x="-0.45" y="0" font-family="Liberation Sans" font-size="9.0" font-weight="normal" stroke="#000" stroke-width="0.35" fill="#000" textLength="73.72" lengthAdjust="spacing">Cell Count (k/mm</text>
<text transform="translate(27.60,445.90) rotate(-90)" x="-0.20" y="0" font-family="Liberation Sans" font-size="6.6" font-weight="normal" stroke="#000" stroke-width="0.3" fill="#000" textLength="3.34" lengthAdjust="spacing">3</text>
<text transform="translate(31.30,441.70) rotate(-90)" x="0.00" y="0" font-family="Liberation Sans" font-size="9.0" font-weight="normal" stroke="#000" stroke-width="0.35" fill="#000" textLength="3.18" lengthAdjust="spacing">)</text>
<text transform="translate(27.60,615.80) rotate(-90)" x="-0.20" y="0" font-family="Liberation Sans" font-size="6.6" font-weight="normal" stroke="#000" stroke-width="0.3" fill="#000" textLength="4.34" lengthAdjust="spacing">3</text>
<text transform="translate(31.30,611.20) rotate(-90)" x="0.00" y="0" font-family="Liberation Sans" font-size="9.0" font-weight="normal" stroke="#000" stroke-width="0.35" fill="#000" textLength="2.68" lengthAdjust="spacing">)</text>
<polyline points="128.2,567.0 145.0,567.0" fill="none" stroke="#9a2e4c" stroke-width="1.15" stroke-dasharray="4 2.5 1.2 2.5" stroke-linejoin="round"/>
<polyline points="79.3,567.3 112.0,568.2 128.2,567.0" fill="none" stroke="#6e1e36" stroke-width="1.15" stroke-dasharray="4 2.5 1.2 2.5" stroke-linejoin="round"/>
<polyline points="128.3,463.3 144.6,463.3" fill="none" stroke="#364a50" stroke-width="1.4" stroke-dasharray="1.4 2.4" stroke-linejoin="round"/>
<polyline points="79.2,467.1 111.9,457.9 128.3,463.3" fill="none" stroke="#364a50" stroke-width="1.4" stroke-dasharray="1.4 2.4" stroke-linejoin="round"/>
<polyline points="128.3,449.2 144.6,449.2" fill="none" stroke="#9a6e7a" stroke-width="1.45" stroke-linejoin="round"/>
<polyline points="79.2,454.0 111.9,444.4 128.3,449.2" fill="none" stroke="#5e3640" stroke-width="1.3" stroke-linejoin="round"/>
<rect x="76.5" y="564.8" width="5.5" height="5" fill="#a01230"/>
<rect x="109.2" y="565.7" width="5.5" height="5" fill="#a01230"/>
<rect x="125.4" y="564.5" width="5.5" height="5" fill="#a01230"/>
<path d="M76.1,469.4 L79.2,464.8 L82.3,469.4Z" fill="#cc1852"/>
<path d="M108.8,460.2 L111.9,455.6 L115.0,460.2Z" fill="#cc1852"/>
<path d="M125.2,465.6 L128.3,461.0 L131.4,465.6Z" fill="#cc1852"/>
<ellipse cx="79.2" cy="454.0" rx="3.0" ry="2.6" fill="#16299c"/>
<ellipse cx="111.9" cy="444.4" rx="3.0" ry="2.6" fill="#16299c"/>
<ellipse cx="128.3" cy="449.2" rx="3.0" ry="2.6" fill="#16299c"/>
<polyline points="87.1,578.6 111.6,578.6" fill="none" stroke="#d2eef6" stroke-width="3.2" stroke-linejoin="round"/>
<polyline points="87.1,578.6 111.6,578.6" fill="none" stroke="#22688a" stroke-width="1.5" stroke-dasharray="2.6 1.5" stroke-linejoin="round"/>
<path d="M85.0,578.6 L87.1,576.7 L89.2,578.6 L87.1,580.5Z" fill="#aabcd0" stroke="#5a6e8c" stroke-width="1.1"/>
<path d="M93.3,578.6 L95.4,576.7 L97.5,578.6 L95.4,580.5Z" fill="#aabcd0" stroke="#5a6e8c" stroke-width="1.1"/>
<path d="M101.5,578.6 L103.6,576.7 L105.7,578.6 L103.6,580.5Z" fill="#aabcd0" stroke="#5a6e8c" stroke-width="1.1"/>
<path d="M109.5,578.6 L111.6,576.7 L113.7,578.6 L111.6,580.5Z" fill="#aabcd0" stroke="#5a6e8c" stroke-width="1.1"/>
<text x="98.00" y="590.60" font-family="Liberation Sans" font-size="8.8" font-weight="normal" stroke="#000" stroke-width="0.45" fill="#000" text-anchor="middle">C</text>
<polyline points="170.3,567.3 197.3,567.0" fill="none" stroke="#9a2e4c" stroke-width="1.15" stroke-dasharray="4 2.5 1.2 2.5" stroke-linejoin="round"/>
<polyline points="218.6,571.9 238.9,571.9" fill="none" stroke="#9a2e4c" stroke-width="1.15" stroke-dasharray="4 2.5 1.2 2.5" stroke-linejoin="round"/>
<polyline points="197.3,567.0 204.7,568.2 211.9,565.4 218.6,571.9" fill="none" stroke="#6e1e36" stroke-width="1.15" stroke-dasharray="4 2.5 1.2 2.5" stroke-linejoin="round"/>
<polyline points="170.6,427.5 197.5,426.5" fill="none" stroke="#364a50" stroke-width="1.4" stroke-dasharray="1.4 2.4" stroke-linejoin="round"/>
<polyline points="219.0,420.8 238.8,421.2" fill="none" stroke="#364a50" stroke-width="1.4" stroke-dasharray="1.4 2.4" stroke-linejoin="round"/>
<polyline points="197.5,426.5 204.8,443.3 211.9,429.8 219.0,420.8" fill="none" stroke="#364a50" stroke-width="1.4" stroke-dasharray="1.4 2.4" stroke-linejoin="round"/>
<polyline points="170.6,412.5 198.5,411.9" fill="none" stroke="#9a6e7a" stroke-width="1.45" stroke-linejoin="round"/>
<polyline points="219.0,410.6 239.2,411.0" fill="none" stroke="#9a6e7a" stroke-width="1.45" stroke-linejoin="round"/>
<polyline points="198.5,411.9 204.8,424.6 211.9,416.9 219.0,410.6" fill="none" stroke="#5e3640" stroke-width="1.3" stroke-linejoin="round"/>
<rect x="194.6" y="564.5" width="5.5" height="5" fill="#a01230"/>
<rect x="201.9" y="565.7" width="5.5" height="5" fill="#a01230"/>
<rect x="209.2" y="562.9" width="5.5" height="5" fill="#a01230"/>
<rect x="215.8" y="569.4" width="5.5" height="5" fill="#a01230"/>
<path d="M194.4,428.8 L197.5,424.2 L200.6,428.8Z" fill="#cc1852"/>
<path d="M201.7,445.6 L204.8,441.0 L207.9,445.6Z" fill="#cc1852"/>
<path d="M208.8,432.1 L211.9,427.5 L215.0,432.1Z" fill="#cc1852"/>
<path d="M215.9,423.1 L219.0,418.5 L222.1,423.1Z" fill="#cc1852"/>
<ellipse cx="198.5" cy="411.9" rx="3.0" ry="2.6" fill="#16299c"/>
<ellipse cx="204.8" cy="424.6" rx="3.0" ry="2.6" fill="#16299c"/>
<ellipse cx="211.9" cy="416.9" rx="3.0" ry="2.6" fill="#16299c"/>
<ellipse cx="219.0" cy="410.6" rx="3.0" ry="2.6" fill="#16299c"/>
<polyline points="198.2,578.8 218.7,578.8" fill="none" stroke="#d2eef6" stroke-width="3.2" stroke-linejoin="round"/>
<polyline points="198.2,578.8 218.7,578.8" fill="none" stroke="#22688a" stroke-width="1.5" stroke-dasharray="2.6 1.5" stroke-linejoin="round"/>
<path d="M196.1,578.8 L198.2,576.9 L200.3,578.8 L198.2,580.7Z" fill="#aabcd0" stroke="#5a6e8c" stroke-width="1.1"/>
<path d="M202.7,578.8 L204.8,576.9 L206.9,578.8 L204.8,580.7Z" fill="#aabcd0" stroke="#5a6e8c" stroke-width="1.1"/>
<path d="M209.6,578.8 L211.7,576.9 L213.8,578.8 L211.7,580.7Z" fill="#aabcd0" stroke="#5a6e8c" stroke-width="1.1"/>
<path d="M216.6,578.8 L218.7,576.9 L220.8,578.8 L218.7,580.7Z" fill="#aabcd0" stroke="#5a6e8c" stroke-width="1.1"/>
<text x="208.70" y="591.40" font-family="Liberation Sans" font-size="8.8" font-weight="normal" stroke="#000" stroke-width="0.45" fill="#000" text-anchor="middle">V</text>
<polyline points="265.6,563.8 293.1,563.8" fill="none" stroke="#9a2e4c" stroke-width="1.15" stroke-dasharray="4 2.5 1.2 2.5" stroke-linejoin="round"/>
<polyline points="306.0,565.4 333.8,565.4" fill="none" stroke="#9a2e4c" stroke-width="1.15" stroke-dasharray="4 2.5 1.2 2.5" stroke-linejoin="round"/>
<polyline points="293.1,563.8 306.0,565.4" fill="none" stroke="#6e1e36" stroke-width="1.15" stroke-dasharray="4 2.5 1.2 2.5" stroke-linejoin="round"/>
<polyline points="265.6,434.6 293.1,434.6" fill="none" stroke="#364a50" stroke-width="1.4" stroke-dasharray="1.4 2.4" stroke-linejoin="round"/>
<polyline points="306.5,429.4 333.8,428.8" fill="none" stroke="#364a50" stroke-width="1.4" stroke-dasharray="1.4 2.4" stroke-linejoin="round"/>
<polyline points="293.1,434.6 306.5,429.4" fill="none" stroke="#364a50" stroke-width="1.4" stroke-dasharray="1.4 2.4" stroke-linejoin="round"/>
<polyline points="265.6,414.8 293.1,414.4" fill="none" stroke="#9a6e7a" stroke-width="1.45" stroke-linejoin="round"/>
<polyline points="306.5,411.0 334.8,410.0" fill="none" stroke="#9a6e7a" stroke-width="1.45" stroke-linejoin="round"/>
<polyline points="293.1,414.4 306.5,411.0" fill="none" stroke="#5e3640" stroke-width="1.3" stroke-linejoin="round"/>
<rect x="290.4" y="561.3" width="5.5" height="5" fill="#a01230"/>
<rect x="303.2" y="562.9" width="5.5" height="5" fill="#a01230"/>
<path d="M290.0,436.9 L293.1,432.3 L296.2,436.9Z" fill="#cc1852"/>
<path d="M303.4,431.7 L306.5,427.1 L309.6,431.7Z" fill="#cc1852"/>
<ellipse cx="293.1" cy="414.4" rx="3.0" ry="2.6" fill="#16299c"/>
<ellipse cx="306.5" cy="411.0" rx="3.0" ry="2.6" fill="#16299c"/>
<polyline points="292.5,578.9 306.6,578.9" fill="none" stroke="#d2eef6" stroke-width="3.2" stroke-linejoin="round"/>
<polyline points="292.5,578.9 306.6,578.9" fill="none" stroke="#22688a" stroke-width="1.5" stroke-dasharray="2.6 1.5" stroke-linejoin="round"/>
<path d="M290.4,578.9 L292.5,577.0 L294.6,578.9 L292.5,580.8Z" fill="#aabcd0" stroke="#5a6e8c" stroke-width="1.1"/>
<path d="M297.6,578.9 L299.7,577.0 L301.8,578.9 L299.7,580.8Z" fill="#aabcd0" stroke="#5a6e8c" stroke-width="1.1"/>
<path d="M304.5,578.9 L306.6,577.0 L308.7,578.9 L306.6,580.8Z" fill="#aabcd0" stroke="#5a6e8c" stroke-width="1.1"/>
<text x="299.80" y="592.40" font-family="Liberation Sans" font-size="8.8" font-weight="normal" stroke="#000" stroke-width="0.45" fill="#000" text-anchor="middle">F</text>
<polyline points="360.4,565.4 400.8,565.4" fill="none" stroke="#9a2e4c" stroke-width="1.15" stroke-dasharray="4 2.5 1.2 2.5" stroke-linejoin="round"/>
<polyline points="400.8,565.4 417.1,558.7" fill="none" stroke="#6e1e36" stroke-width="1.15" stroke-dasharray="4 2.5 1.2 2.5" stroke-linejoin="round"/>
<polyline points="360.4,409.8 401.2,408.1" fill="none" stroke="#364a50" stroke-width="1.4" stroke-dasharray="1.4 2.4" stroke-linejoin="round"/>
<polyline points="401.2,408.1 417.5,417.5" fill="none" stroke="#364a50" stroke-width="1.4" stroke-dasharray="1.4 2.4" stroke-linejoin="round"/>
<polyline points="360.4,390.6 401.2,389.2" fill="none" stroke="#9a6e7a" stroke-width="1.45" stroke-linejoin="round"/>
<polyline points="401.2,389.2 417.5,395.6" fill="none" stroke="#5e3640" stroke-width="1.3" stroke-linejoin="round"/>
<rect x="398.1" y="562.9" width="5.5" height="5" fill="#a01230"/>
<rect x="414.4" y="556.2" width="5.5" height="5" fill="#a01230"/>
<path d="M398.1,410.4 L401.2,405.8 L404.3,410.4Z" fill="#cc1852"/>
<path d="M414.4,419.8 L417.5,415.2 L420.6,419.8Z" fill="#cc1852"/>
<ellipse cx="401.2" cy="389.2" rx="3.0" ry="2.6" fill="#16299c"/>
<ellipse cx="417.5" cy="395.6" rx="3.0" ry="2.6" fill="#16299c"/>
<polyline points="400.5,579.2 417.4,579.2" fill="none" stroke="#d2eef6" stroke-width="3.2" stroke-linejoin="round"/>
<polyline points="400.5,579.2 417.4,579.2" fill="none" stroke="#22688a" stroke-width="1.5" stroke-dasharray="2.6 1.5" stroke-linejoin="round"/>
<path d="M398.4,579.2 L400.5,577.3 L402.6,579.2 L400.5,581.1Z" fill="#aabcd0" stroke="#5a6e8c" stroke-width="1.1"/>
<path d="M406.7,579.2 L408.8,577.3 L410.9,579.2 L408.8,581.1Z" fill="#aabcd0" stroke="#5a6e8c" stroke-width="1.1"/>
<path d="M415.3,579.2 L417.4,577.3 L419.5,579.2 L417.4,581.1Z" fill="#aabcd0" stroke="#5a6e8c" stroke-width="1.1"/>
<text x="410.40" y="592.40" font-family="Liberation Sans" font-size="8.8" font-weight="normal" stroke="#000" stroke-width="0.45" fill="#000" text-anchor="middle">X</text>
<text x="1.90" y="671.80" font-family="Liberation Sans" font-size="25.0" font-weight="bold" fill="#000" textLength="17.85" lengthAdjust="spacingAndGlyphs">C</text>
<line x1="48.20" y1="655.40" x2="48.20" y2="946.00" stroke="#151515" stroke-width="1.5"/>
<line x1="47.45" y1="945.30" x2="516.50" y2="945.30" stroke="#151515" stroke-width="1.5"/>
<line x1="48.20" y1="921.10" x2="53.30" y2="921.10" stroke="#151515" stroke-width="1.2"/>
<text x="35.40" y="926.20" font-family="Liberation Sans" font-size="9.9" font-weight="normal" stroke="#000" stroke-width="0.35" fill="#000" textLength="6.45" lengthAdjust="spacing">0</text>
<line x1="48.20" y1="883.30" x2="53.30" y2="883.30" stroke="#151515" stroke-width="1.2"/>
<text x="29.91" y="888.40" font-family="Liberation Sans" font-size="9.9" font-weight="normal" stroke="#000" stroke-width="0.35" fill="#000" textLength="11.95" lengthAdjust="spacing">10</text>
<line x1="48.20" y1="845.50" x2="53.30" y2="845.50" stroke="#151515" stroke-width="1.2"/>
<text x="30.11" y="850.60" font-family="Liberation Sans" font-size="9.9" font-weight="normal" stroke="#000" stroke-width="0.35" fill="#000" textLength="11.75" lengthAdjust="spacing">20</text>
<line x1="48.20" y1="807.70" x2="53.30" y2="807.70" stroke="#151515" stroke-width="1.2"/>
<text x="30.30" y="812.80" font-family="Liberation Sans" font-size="9.9" font-weight="normal" stroke="#000" stroke-width="0.35" fill="#000" textLength="11.55" lengthAdjust="spacing">30</text>
<line x1="48.20" y1="769.90" x2="53.30" y2="769.90" stroke="#151515" stroke-width="1.2"/>
<text x="30.40" y="775.00" font-family="Liberation Sans" font-size="9.9" font-weight="normal" stroke="#000" stroke-width="0.35" fill="#000" textLength="11.46" lengthAdjust="spacing">40</text>
<line x1="48.20" y1="732.10" x2="53.30" y2="732.10" stroke="#151515" stroke-width="1.2"/>
<text x="30.20" y="737.20" font-family="Liberation Sans" font-size="9.9" font-weight="normal" stroke="#000" stroke-width="0.35" fill="#000" textLength="11.65" lengthAdjust="spacing">50</text>
<line x1="48.20" y1="694.30" x2="53.30" y2="694.30" stroke="#151515" stroke-width="1.2"/>
<text x="30.11" y="699.40" font-family="Liberation Sans" font-size="9.9" font-weight="normal" stroke="#000" stroke-width="0.35" fill="#000" textLength="11.75" lengthAdjust="spacing">60</text>
<line x1="48.20" y1="656.50" x2="53.30" y2="656.50" stroke="#151515" stroke-width="1.2"/>
<text x="30.11" y="661.60" font-family="Liberation Sans" font-size="9.9" font-weight="normal" stroke="#000" stroke-width="0.35" fill="#000" textLength="11.75" lengthAdjust="spacing">70</text>
<line x1="48.20" y1="940.00" x2="50.80" y2="940.00" stroke="#151515" stroke-width="1.1"/>
<line x1="48.20" y1="902.20" x2="50.80" y2="902.20" stroke="#151515" stroke-width="1.1"/>
<line x1="48.20" y1="864.40" x2="50.80" y2="864.40" stroke="#151515" stroke-width="1.1"/>
<line x1="48.20" y1="826.60" x2="50.80" y2="826.60" stroke="#151515" stroke-width="1.1"/>
<line x1="48.20" y1="788.80" x2="50.80" y2="788.80" stroke="#151515" stroke-width="1.1"/>
<line x1="48.20" y1="751.00" x2="50.80" y2="751.00" stroke="#151515" stroke-width="1.1"/>
<line x1="48.20" y1="713.20" x2="50.80" y2="713.20" stroke="#151515" stroke-width="1.1"/>
<line x1="48.20" y1="675.40" x2="50.80" y2="675.40" stroke="#151515" stroke-width="1.1"/>
<line x1="64.55" y1="945.30" x2="64.55" y2="942.80" stroke="#151515" stroke-width="1.1"/>
<line x1="82.69" y1="945.30" x2="82.69" y2="941.30" stroke="#151515" stroke-width="1.1"/>
<line x1="100.84" y1="945.30" x2="100.84" y2="942.80" stroke="#151515" stroke-width="1.1"/>
<line x1="118.98" y1="945.30" x2="118.98" y2="941.30" stroke="#151515" stroke-width="1.1"/>
<line x1="137.13" y1="945.30" x2="137.13" y2="942.80" stroke="#151515" stroke-width="1.1"/>
<line x1="155.27" y1="945.30" x2="155.27" y2="941.30" stroke="#151515" stroke-width="1.1"/>
<line x1="173.42" y1="945.30" x2="173.42" y2="942.80" stroke="#151515" stroke-width="1.1"/>
<line x1="191.56" y1="945.30" x2="191.56" y2="941.30" stroke="#151515" stroke-width="1.1"/>
<line x1="209.71" y1="945.30" x2="209.71" y2="942.80" stroke="#151515" stroke-width="1.1"/>
<line x1="227.86" y1="945.30" x2="227.86" y2="941.30" stroke="#151515" stroke-width="1.1"/>
<line x1="246.00" y1="945.30" x2="246.00" y2="942.80" stroke="#151515" stroke-width="1.1"/>
<line x1="264.14" y1="945.30" x2="264.14" y2="941.30" stroke="#151515" stroke-width="1.1"/>
<line x1="282.29" y1="945.30" x2="282.29" y2="942.80" stroke="#151515" stroke-width="1.1"/>
<line x1="300.44" y1="945.30" x2="300.44" y2="941.30" stroke="#151515" stroke-width="1.1"/>
<line x1="318.58" y1="945.30" x2="318.58" y2="942.80" stroke="#151515" stroke-width="1.1"/>
<line x1="336.73" y1="945.30" x2="336.73" y2="941.30" stroke="#151515" stroke-width="1.1"/>
<line x1="354.87" y1="945.30" x2="354.87" y2="942.80" stroke="#151515" stroke-width="1.1"/>
<line x1="373.01" y1="945.30" x2="373.01" y2="941.30" stroke="#151515" stroke-width="1.1"/>
<line x1="391.16" y1="945.30" x2="391.16" y2="942.80" stroke="#151515" stroke-width="1.1"/>
<line x1="409.31" y1="945.30" x2="409.31" y2="941.30" stroke="#151515" stroke-width="1.1"/>
<line x1="427.45" y1="945.30" x2="427.45" y2="942.80" stroke="#151515" stroke-width="1.1"/>
<line x1="445.60" y1="945.30" x2="445.60" y2="941.30" stroke="#151515" stroke-width="1.1"/>
<line x1="463.74" y1="945.30" x2="463.74" y2="942.80" stroke="#151515" stroke-width="1.1"/>
<line x1="481.88" y1="945.30" x2="481.88" y2="941.30" stroke="#151515" stroke-width="1.1"/>
<line x1="500.03" y1="945.30" x2="500.03" y2="942.80" stroke="#151515" stroke-width="1.1"/>
<text x="70.09" y="959.20" font-family="Liberation Sans" font-size="8.2" font-weight="normal" stroke="#000" stroke-width="0.4" fill="#000" textLength="25.31" lengthAdjust="spacing">6/4/98</text>
<text x="103.79" y="959.20" font-family="Liberation Sans" font-size="8.2" font-weight="normal" stroke="#000" stroke-width="0.4" fill="#000" textLength="29.61" lengthAdjust="spacing">6/24/98</text>
<text x="140.09" y="959.20" font-family="Liberation Sans" font-size="8.2" font-weight="normal" stroke="#000" stroke-width="0.4" fill="#000" textLength="30.61" lengthAdjust="spacing">7/14/98</text>
<text x="179.47" y="959.20" font-family="Liberation Sans" font-size="8.2" font-weight="normal" stroke="#000" stroke-width="0.4" fill="#000" textLength="24.82" lengthAdjust="spacing">8/3/98</text>
<text x="214.07" y="959.20" font-family="Liberation Sans" font-size="8.2" font-weight="normal" stroke="#000" stroke-width="0.4" fill="#000" textLength="29.32" lengthAdjust="spacing">8/23/98</text>
<text x="249.67" y="959.20" font-family="Liberation Sans" font-size="8.2" font-weight="normal" stroke="#000" stroke-width="0.4" fill="#000" textLength="30.02" lengthAdjust="spacing">9/12/98</text>
<text x="285.68" y="959.20" font-family="Liberation Sans" font-size="8.2" font-weight="normal" stroke="#000" stroke-width="0.4" fill="#000" textLength="29.62" lengthAdjust="spacing">10/2/98</text>
<text x="319.43" y="959.20" font-family="Liberation Sans" font-size="8.2" font-weight="normal" stroke="#000" stroke-width="0.4" fill="#000" textLength="35.37" lengthAdjust="spacing">10/22/98</text>
<text x="355.68" y="959.20" font-family="Liberation Sans" font-size="8.2" font-weight="normal" stroke="#000" stroke-width="0.4" fill="#000" textLength="34.62" lengthAdjust="spacing">11/11/98</text>
<text x="393.93" y="959.20" font-family="Liberation Sans" font-size="8.2" font-weight="normal" stroke="#000" stroke-width="0.4" fill="#000" textLength="30.12" lengthAdjust="spacing">12/1/98</text>
<text x="428.18" y="959.20" font-family="Liberation Sans" font-size="8.2" font-weight="normal" stroke="#000" stroke-width="0.4" fill="#000" textLength="34.62" lengthAdjust="spacing">12/21/98</text>
<text x="466.43" y="959.20" font-family="Liberation Sans" font-size="8.2" font-weight="normal" stroke="#000" stroke-width="0.4" fill="#000" textLength="27.70" lengthAdjust="spacing">1/10/99</text>
<text transform="translate(12.90,843.50) rotate(-90)" x="-0.38" y="0" font-family="Liberation Sans" font-size="9.4" font-weight="bold" fill="#000" textLength="87.63" lengthAdjust="spacing">Cell Count (k/mm</text>
<text transform="translate(8.90,755.20) rotate(-90)" x="-0.13" y="0" font-family="Liberation Sans" font-size="6.6" font-weight="bold" fill="#000" textLength="3.47" lengthAdjust="spacing">3</text>
<text transform="translate(12.90,750.90) rotate(-90)" x="0.00" y="0" font-family="Liberation Sans" font-size="9.4" font-weight="bold" fill="#000" textLength="3.40" lengthAdjust="spacing">)</text>
<polyline points="107.5,901.3 115.0,911.3 154.9,892.6 167.6,890.6 169.2,898.5 171.4,904.4 178.6,888.7 182.4,908.9 191.2,903.0 204.0,905.3 220.3,905.0 271.1,895.8 283.8,906.6 298.1,913.1 309.2,908.5 321.9,906.2 334.2,903.2 347.0,904.6 357.7,899.7 381.5,905.5 394.2,903.4 407.1,893.0 436.1,896.5 445.5,902.5 457.2,905.9" fill="none" stroke="#6e1e36" stroke-width="1.4" stroke-dasharray="5 2 1.5 2" stroke-linejoin="round"/>
<polyline points="107.5,751.6 115.0,744.9 154.9,777.8 167.6,840.5 169.2,873.6 171.4,868.6 178.6,846.6 182.4,836.2 191.2,839.0 204.0,850.6 220.3,833.0 271.1,840.9 283.8,828.9 298.1,801.2 309.2,816.9 321.9,791.9 334.2,820.8 347.0,794.9 357.7,796.1 381.5,787.3 394.2,791.9 407.1,757.2 436.1,730.4 445.5,827.5 457.2,696.2" fill="none" stroke="#364a50" stroke-width="1.5" stroke-dasharray="1.5 2.6" stroke-linejoin="round"/>
<polyline points="107.5,726.7 115.0,725.2 154.9,742.4 167.6,804.7 169.2,847.5 171.4,849.3 178.6,828.5 182.4,821.7 191.2,816.0 204.0,828.6 220.3,808.5 271.1,809.7 283.8,803.9 298.1,790.3 309.2,797.2 321.9,775.8 334.2,792.6 347.0,774.6 357.7,770.7 381.5,769.3 394.2,774.6 407.1,721.7 436.1,702.3 445.5,798.5 457.2,679.6" fill="none" stroke="#5e3640" stroke-width="1.2" stroke-linejoin="round"/>
<rect x="104.4" y="898.5" width="6.2" height="5.5" fill="#a01230"/>
<rect x="111.9" y="908.5" width="6.2" height="5.5" fill="#a01230"/>
<rect x="151.8" y="889.9" width="6.2" height="5.5" fill="#a01230"/>
<rect x="164.5" y="887.9" width="6.2" height="5.5" fill="#a01230"/>
<rect x="166.1" y="895.8" width="6.2" height="5.5" fill="#a01230"/>
<rect x="168.3" y="901.6" width="6.2" height="5.5" fill="#a01230"/>
<rect x="175.5" y="886.0" width="6.2" height="5.5" fill="#a01230"/>
<rect x="179.3" y="906.1" width="6.2" height="5.5" fill="#a01230"/>
<rect x="188.1" y="900.2" width="6.2" height="5.5" fill="#a01230"/>
<rect x="200.9" y="902.5" width="6.2" height="5.5" fill="#a01230"/>
<rect x="217.2" y="902.2" width="6.2" height="5.5" fill="#a01230"/>
<rect x="268.0" y="893.0" width="6.2" height="5.5" fill="#a01230"/>
<rect x="280.7" y="903.9" width="6.2" height="5.5" fill="#a01230"/>
<rect x="295.0" y="910.4" width="6.2" height="5.5" fill="#a01230"/>
<rect x="306.1" y="905.8" width="6.2" height="5.5" fill="#a01230"/>
<rect x="318.8" y="903.5" width="6.2" height="5.5" fill="#a01230"/>
<rect x="331.1" y="900.5" width="6.2" height="5.5" fill="#a01230"/>
<rect x="343.9" y="901.9" width="6.2" height="5.5" fill="#a01230"/>
<rect x="354.6" y="897.0" width="6.2" height="5.5" fill="#a01230"/>
<rect x="378.4" y="902.8" width="6.2" height="5.5" fill="#a01230"/>
<rect x="391.1" y="900.6" width="6.2" height="5.5" fill="#a01230"/>
<rect x="404.0" y="890.2" width="6.2" height="5.5" fill="#a01230"/>
<rect x="433.0" y="893.8" width="6.2" height="5.5" fill="#a01230"/>
<rect x="442.4" y="899.8" width="6.2" height="5.5" fill="#a01230"/>
<rect x="454.1" y="903.1" width="6.2" height="5.5" fill="#a01230"/>
<path d="M104.0,754.1 L107.5,749.1 L111.0,754.1Z" fill="#cc1852"/>
<path d="M111.5,747.4 L115.0,742.4 L118.5,747.4Z" fill="#cc1852"/>
<path d="M151.4,780.3 L154.9,775.3 L158.4,780.3Z" fill="#cc1852"/>
<path d="M164.1,843.0 L167.6,838.0 L171.1,843.0Z" fill="#cc1852"/>
<path d="M165.7,876.1 L169.2,871.1 L172.7,876.1Z" fill="#cc1852"/>
<path d="M167.9,871.1 L171.4,866.1 L174.9,871.1Z" fill="#cc1852"/>
<path d="M175.1,849.1 L178.6,844.1 L182.1,849.1Z" fill="#cc1852"/>
<path d="M178.9,838.7 L182.4,833.7 L185.9,838.7Z" fill="#cc1852"/>
<path d="M187.7,841.5 L191.2,836.5 L194.7,841.5Z" fill="#cc1852"/>
<path d="M200.5,853.1 L204.0,848.1 L207.5,853.1Z" fill="#cc1852"/>
<path d="M216.8,835.5 L220.3,830.5 L223.8,835.5Z" fill="#cc1852"/>
<path d="M267.6,843.4 L271.1,838.4 L274.6,843.4Z" fill="#cc1852"/>
<path d="M280.3,831.4 L283.8,826.4 L287.3,831.4Z" fill="#cc1852"/>
<path d="M294.6,803.7 L298.1,798.7 L301.6,803.7Z" fill="#cc1852"/>
<path d="M305.7,819.4 L309.2,814.4 L312.7,819.4Z" fill="#cc1852"/>
<path d="M318.4,794.4 L321.9,789.4 L325.4,794.4Z" fill="#cc1852"/>
<path d="M330.7,823.3 L334.2,818.3 L337.7,823.3Z" fill="#cc1852"/>
<path d="M343.5,797.4 L347.0,792.4 L350.5,797.4Z" fill="#cc1852"/>
<path d="M354.2,798.6 L357.7,793.6 L361.2,798.6Z" fill="#cc1852"/>
<path d="M378.0,789.8 L381.5,784.8 L385.0,789.8Z" fill="#cc1852"/>
<path d="M390.7,794.4 L394.2,789.4 L397.7,794.4Z" fill="#cc1852"/>
<path d="M403.6,759.7 L407.1,754.7 L410.6,759.7Z" fill="#cc1852"/>
<path d="M432.6,732.9 L436.1,727.9 L439.6,732.9Z" fill="#cc1852"/>
<path d="M442.0,830.0 L445.5,825.0 L449.0,830.0Z" fill="#cc1852"/>
<path d="M453.7,698.7 L457.2,693.7 L460.7,698.7Z" fill="#cc1852"/>
<ellipse cx="107.5" cy="726.7" rx="3.7" ry="3.1" fill="#16299c"/>
<ellipse cx="115.0" cy="725.2" rx="3.7" ry="3.1" fill="#16299c"/>
<ellipse cx="154.9" cy="742.4" rx="3.7" ry="3.1" fill="#16299c"/>
<ellipse cx="167.6" cy="804.7" rx="3.7" ry="3.1" fill="#16299c"/>
<ellipse cx="169.2" cy="847.5" rx="3.7" ry="3.1" fill="#16299c"/>
<ellipse cx="171.4" cy="849.3" rx="3.7" ry="3.1" fill="#16299c"/>
<ellipse cx="178.6" cy="828.5" rx="3.7" ry="3.1" fill="#16299c"/>
<ellipse cx="182.4" cy="821.7" rx="3.7" ry="3.1" fill="#16299c"/>
<ellipse cx="191.2" cy="816.0" rx="3.7" ry="3.1" fill="#16299c"/>
<ellipse cx="204.0" cy="828.6" rx="3.7" ry="3.1" fill="#16299c"/>
<ellipse cx="220.3" cy="808.5" rx="3.7" ry="3.1" fill="#16299c"/>
<ellipse cx="271.1" cy="809.7" rx="3.7" ry="3.1" fill="#16299c"/>
<ellipse cx="283.8" cy="803.9" rx="3.7" ry="3.1" fill="#16299c"/>
<ellipse cx="298.1" cy="790.3" rx="3.7" ry="3.1" fill="#16299c"/>
<ellipse cx="309.2" cy="797.2" rx="3.7" ry="3.1" fill="#16299c"/>
<ellipse cx="321.9" cy="775.8" rx="3.7" ry="3.1" fill="#16299c"/>
<ellipse cx="334.2" cy="792.6" rx="3.7" ry="3.1" fill="#16299c"/>
<ellipse cx="347.0" cy="774.6" rx="3.7" ry="3.1" fill="#16299c"/>
<ellipse cx="357.7" cy="770.7" rx="3.7" ry="3.1" fill="#16299c"/>
<ellipse cx="381.5" cy="769.3" rx="3.7" ry="3.1" fill="#16299c"/>
<ellipse cx="394.2" cy="774.6" rx="3.7" ry="3.1" fill="#16299c"/>
<ellipse cx="407.1" cy="721.7" rx="3.7" ry="3.1" fill="#16299c"/>
<ellipse cx="436.1" cy="702.3" rx="3.7" ry="3.1" fill="#16299c"/>
<ellipse cx="445.5" cy="798.5" rx="3.7" ry="3.1" fill="#16299c"/>
<ellipse cx="457.2" cy="679.6" rx="3.7" ry="3.1" fill="#16299c"/>
<polyline points="168.3,921.3 391.5,921.1" fill="none" stroke="#235a6a" stroke-width="1.5" stroke-dasharray="2.4 2" stroke-linejoin="round"/>
<path d="M163.2,921 L165.8,918.4 L168.4,921 L165.8,923.6Z" fill="#d0d0d0" stroke="#8a8a8a" stroke-width="1.1"/>
<path d="M391.5,921 L394.1,918.4 L396.7,921 L394.1,923.6Z" fill="#d0d0d0" stroke="#8a8a8a" stroke-width="1.1"/>
<path d="M439.9,921 L442.5,918.4 L445.1,921 L442.5,923.6Z" fill="#d0d0d0" stroke="#8a8a8a" stroke-width="1.1"/>
<text x="165.50" y="934.30" font-family="Liberation Sans" font-size="8.8" font-weight="bold" fill="#000" text-anchor="middle">E</text>
<text x="394.60" y="934.30" font-family="Liberation Sans" font-size="8.8" font-weight="bold" fill="#000" text-anchor="middle">E</text>
<text x="443.40" y="934.30" font-family="Liberation Sans" font-size="8.8" font-weight="bold" fill="#000" text-anchor="middle">E</text>
</svg>
</body></html>
